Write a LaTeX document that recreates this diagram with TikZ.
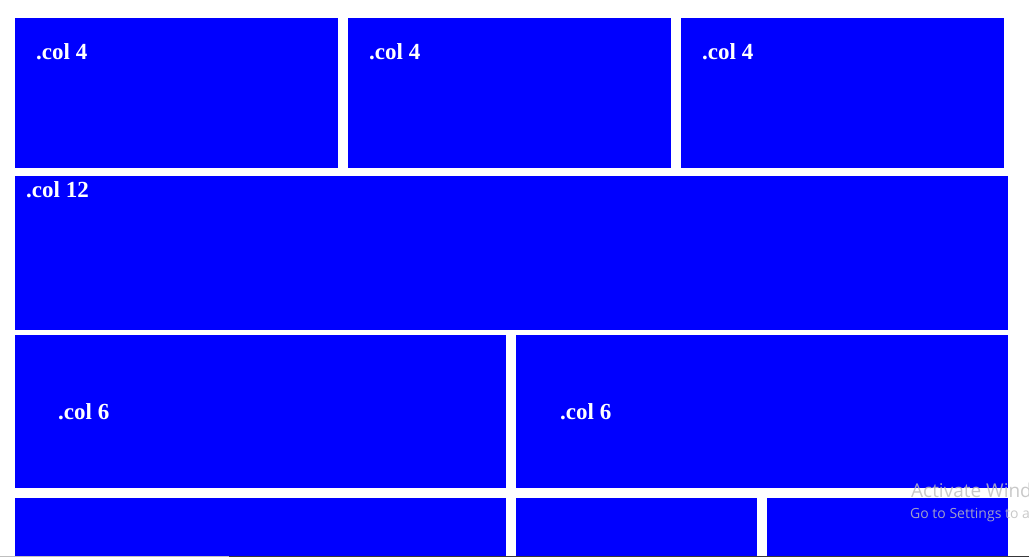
\documentclass[tikz,border=0pt]{standalone}
\usepackage{fontspec}
\setmainfont{Liberation Serif}
\newfontfamily\winfont{Open Sans}
\usetikzlibrary{calc,positioning}
\definecolor{colblue}{RGB}{0,0,255}
\definecolor{wingray}{RGB}{190,190,190}
\tikzset{
  colbox/.style={fill=colblue, draw=none, inner sep=0pt, outer sep=0pt, anchor=north west},
  collabel/.style={text=white, font=\fontsize{23}{23}\selectfont\bfseries, inner sep=0pt, anchor=base west},
  winmark/.style={text=wingray, text opacity=0.84, inner sep=0pt, anchor=base west}
}
\begin{document}
\begin{tikzpicture}[x=1pt,y=-1pt]
\useasboundingbox (0,0) rectangle (1029,557);
% row of three
\node[colbox, minimum width=323pt, minimum height=150pt] (quarta) at (15,18) {};
\node[colbox, minimum width=323pt, minimum height=150pt] (quartb) at (348,18) {};
\node[colbox, minimum width=323pt, minimum height=150pt] (quartc) at (681,18) {};
\node[collabel] (labquarta) at ($(quarta.north west)+(21,41)$) {.col 4};
\node[collabel] (labquartb) at ($(quartb.north west)+(21,41)$) {.col 4};
\node[collabel] (labquartc) at ($(quartc.north west)+(21,41)$) {.col 4};
% full row
\node[colbox, minimum width=993pt, minimum height=154pt] (full) at (15,176) {};
\node[collabel] (labfull) at ($(full.north west)+(11,21)$) {.col 12};
% row of two
\node[colbox, minimum width=491pt, minimum height=153pt] (halfa) at (15,335) {};
\node[colbox, minimum width=492pt, minimum height=153pt] (halfb) at (516,335) {};
\node[collabel] (labhalfa) at ($(halfa.north west)+(43,84)$) {.col 6};
\node[collabel] (labhalfb) at ($(halfb.north west)+(44,84)$) {.col 6};
% last row, cut off
\node[colbox, minimum width=491pt, minimum height=58pt] (lasta) at (15,498) {};
\node[colbox, minimum width=241pt, minimum height=58pt] (lastb) at (516,498) {};
\node[colbox, minimum width=241pt, minimum height=58pt] (lastc) at (767,498) {};
% screen edge
\fill[black!25] (0,556) rectangle (229,557);
\fill[black!78] (229,556) rectangle (1029,557);
\begin{scope}
\clip (0,0) rectangle (1029,557);
\node[winmark, font=\winfont\fontsize{19}{19}\selectfont] (actwin) at (911,497) {Activate Windows};
\node[winmark, font=\winfont\fontsize{14}{14}\selectfont] (gosettings) at (910,518) {Go to Settings to activate Windows.};
\end{scope}
\end{tikzpicture}
\end{document}
